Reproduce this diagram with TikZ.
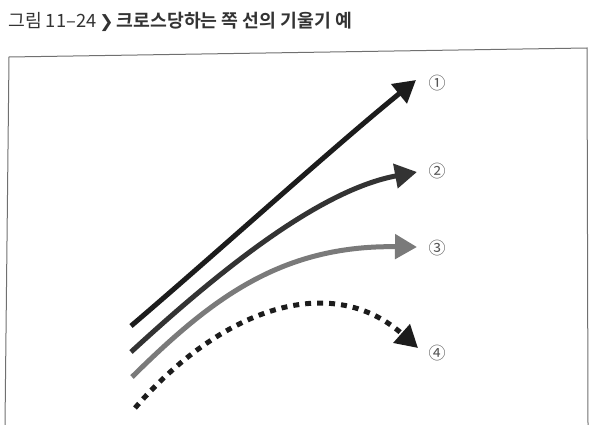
\documentclass[tikz,border=0pt]{standalone}
\usepackage{fontspec}
\setmainfont{Noto Sans CJK KR}[BoldFont={* Bold}]
\newfontfamily\symfont{DejaVu Sans}
\usetikzlibrary{arrows.meta}
\definecolor{ink1}{HTML}{1C1C1C}
\definecolor{ink2}{HTML}{333333}
\definecolor{ink3}{HTML}{7A7A7A}
\definecolor{frame}{HTML}{707070}
\definecolor{lbl}{HTML}{555555}
\tikzset{
  arr/.style={line width=5pt, -{Triangle[length=22pt,width=24pt]}},
  lab/.style={font=\fontsize{17}{17}\selectfont, text=lbl, inner sep=0pt},
}
\begin{document}
\begin{tikzpicture}[x=1pt,y=-1pt]
\useasboundingbox (0,0) rectangle (600,425);
% title
\node[anchor=base west, inner sep=0pt, text=ink2] (title) at (8,28)
  {\fontsize{18.3}{18}\selectfont 그림 11–24\,{\symfont\bfseries\fontsize{17}{17}\selectfont ❯}\,\textbf{크로스당하는 쪽 선의 기울기 예}};
% frame
\draw[frame, line width=1pt] (5,425) -- (9,57) -- (587,48) -- (588,425);
% endpoints
\coordinate (s1) at (131,326); \coordinate (e1) at (416,80);
\coordinate (s2) at (131,352); \coordinate (e2) at (417,172);
\coordinate (s3) at (132,377); \coordinate (e3) at (417,247);
\coordinate (s4) at (135,408); \coordinate (e4) at (418,348);
\draw[arr, ink1] (s1) .. controls (220,250) and (330,150) .. (e1);
\draw[arr, ink2] (s2) .. controls (220,270) and (320,190) .. (e2);
\draw[arr, ink3] (s3) .. controls (210,300) and (280,245) .. (e3);
\draw[arr, ink1, dash pattern=on 6pt off 6pt] (s4) .. controls (220,310) and (330,270) .. (e4);
% labels
\node[lab] (l1) at (437,83) {①};
\node[lab] (l2) at (437,171) {②};
\node[lab] (l3) at (437,248) {③};
\node[lab] (l4) at (437,353) {④};
\end{tikzpicture}
\end{document}
